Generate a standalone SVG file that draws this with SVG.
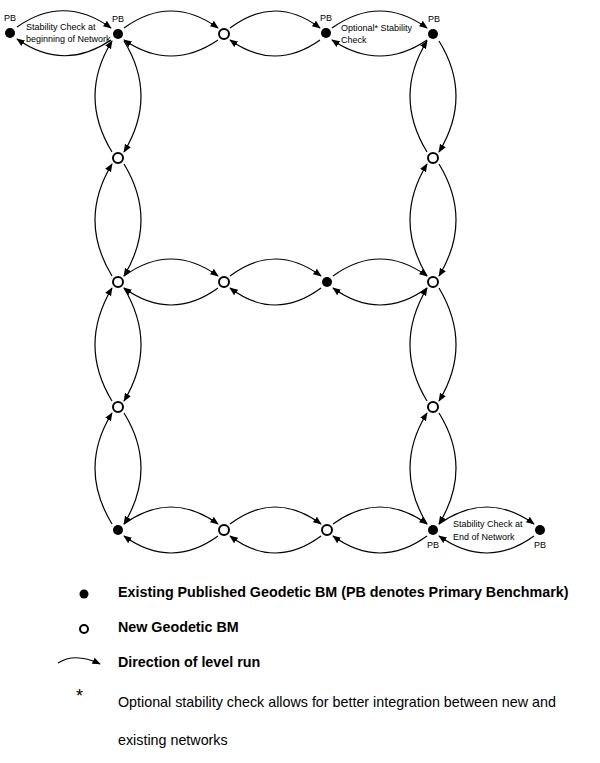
<svg xmlns="http://www.w3.org/2000/svg" width="600" height="763" viewBox="0 0 600 763">
<style>
.c{fill:none;stroke:#000;stroke-width:1.2;marker-end:url(#a)}
.f{fill:#000}
.o{fill:#fff;stroke:#000;stroke-width:2}
text{font-family:"Liberation Sans",Arial,sans-serif;fill:#000}
.s{font-size:9px}
.l{font-size:14.3px;font-weight:bold}
.n{font-size:14.3px}
</style>
<defs><marker id="a" viewBox="0 0 10 10" refX="9" refY="5" markerWidth="7" markerHeight="7" orient="auto-start-reverse"><path d="M0,1 L10,5 L0,9 Z" fill="#000"/></marker></defs>
<rect width="600" height="763" fill="#fff"/>
<g id="connectors">
<path class="c" d="M17,27 Q64,-6 111,28"/><path class="c" d="M111,40 Q64,72 17,39"/>
<path class="c" d="M124,28 Q171,-6 218,28"/><path class="c" d="M218,40 Q171,72 124,40"/>
<path class="c" d="M230,28 Q275,-6 320,28"/><path class="c" d="M320,40 Q275,72 230,40"/>
<path class="c" d="M332,28 Q380,-6 427,28"/><path class="c" d="M427,40 Q380,72 332,40"/>
<path class="c" d="M124,276 Q171,242 218,276"/><path class="c" d="M218,288 Q171,322 124,288"/>
<path class="c" d="M230,276 Q275,242 321,276"/><path class="c" d="M321,288 Q275,322 230,288"/>
<path class="c" d="M333,276 Q380,242 427,276"/><path class="c" d="M427,288 Q380,322 333,288"/>
<path class="c" d="M124,524 Q171,490 218,524"/><path class="c" d="M218,536 Q171,570 124,536"/>
<path class="c" d="M230,524 Q275,490 321,524"/><path class="c" d="M321,536 Q275,570 230,536"/>
<path class="c" d="M333,524 Q380,490 427,524"/><path class="c" d="M427,536 Q380,570 333,536"/>
<path class="c" d="M439,524 Q487,490 534,524"/><path class="c" d="M534,536 Q487,570 439,536"/>
<path class="c" d="M112,152 Q78,96 112,41"/><path class="c" d="M124,41 Q158,96 124,152"/>
<path class="c" d="M112,276 Q78,220 112,164"/><path class="c" d="M124,164 Q158,220 124,276"/>
<path class="c" d="M112,401 Q78,345 112,288"/><path class="c" d="M124,288 Q158,345 124,401"/>
<path class="c" d="M112,524 Q78,468 112,413"/><path class="c" d="M124,413 Q158,468 124,524"/>
<path class="c" d="M427,152 Q393,96 427,41"/><path class="c" d="M439,41 Q473,96 439,152"/>
<path class="c" d="M427,276 Q393,220 427,164"/><path class="c" d="M439,164 Q473,220 439,276"/>
<path class="c" d="M427,401 Q393,345 427,288"/><path class="c" d="M439,288 Q473,345 439,401"/>
<path class="c" d="M427,524 Q393,468 427,413"/><path class="c" d="M439,413 Q473,468 439,524"/>
</g>
<g id="n1"><circle class="f" cx="10" cy="33" r="5"/><text class="s" x="4" y="21">PB</text></g>
<g id="n2"><circle class="f" cx="118" cy="34" r="5"/><text class="s" x="112" y="22">PB</text></g>
<g id="n3"><circle class="o" cx="224" cy="34" r="5"/></g>
<g id="n4"><circle class="f" cx="326" cy="33" r="5"/><text class="s" x="320" y="21">PB</text></g>
<g id="n5"><circle class="f" cx="433" cy="34" r="5"/><text class="s" x="428" y="22">PB</text></g>
<g id="n6"><circle class="o" cx="118" cy="158" r="5"/></g>
<g id="n7"><circle class="o" cx="433" cy="158" r="5"/></g>
<g id="n8"><circle class="o" cx="118" cy="282" r="5"/></g>
<g id="n9"><circle class="o" cx="224" cy="282" r="5"/></g>
<g id="n10"><circle class="f" cx="327" cy="282" r="5"/></g>
<g id="n11"><circle class="o" cx="433" cy="282" r="5"/></g>
<g id="n12"><circle class="o" cx="118" cy="407" r="5"/></g>
<g id="n13"><circle class="o" cx="433" cy="407" r="5"/></g>
<g id="n14"><circle class="f" cx="118" cy="530" r="5"/></g>
<g id="n15"><circle class="o" cx="224" cy="530" r="5"/></g>
<g id="n16"><circle class="o" cx="327" cy="530" r="5"/></g>
<g id="n17"><circle class="f" cx="433" cy="530" r="5"/><text class="s" x="427" y="548">PB</text></g>
<g id="n18"><circle class="f" cx="540" cy="530" r="5"/><text class="s" x="534" y="548">PB</text></g>
<g id="labels">
<text class="s" x="26" y="30">Stability Check at</text>
<text class="s" x="26" y="42">beginning of Network</text>
<text class="s" x="341" y="31">Optional* Stability</text>
<text class="s" x="341" y="43">Check</text>
<text class="s" x="453" y="527">Stability Check at</text>
<text class="s" x="453" y="540">End of Network</text>
</g>
<g id="legend">
<circle class="f" cx="84" cy="594" r="4.5"/>
<text class="l" x="118" y="597">Existing Published Geodetic BM (PB denotes Primary Benchmark)</text>
<circle class="o" cx="84" cy="629" r="4"/>
<text class="l" x="118" y="632">New Geodetic BM</text>
<path class="c" d="M58,663 Q75,652 100,664"/>
<text class="l" x="118" y="667">Direction of level run</text>
<text x="76" y="702" style="font-size:18px">*</text>
<text class="n" x="118" y="707">Optional stability check allows for better integration between new and</text>
<text class="n" x="118" y="745">existing networks</text>
</g>
</svg>
